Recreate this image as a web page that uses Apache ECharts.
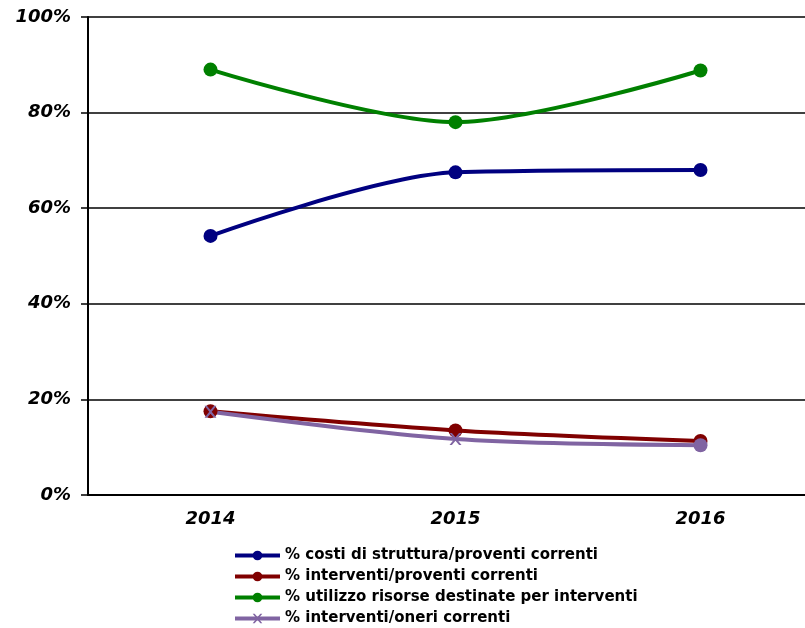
<!DOCTYPE html>
<html><head><meta charset="utf-8">
<script src="https://cdn.jsdelivr.net/npm/echarts@6/dist/echarts.min.js"></script>
<style>html,body{margin:0;padding:0;background:#fff;overflow:hidden}#c{width:823px;height:628px}</style>
</head><body><div id="c"></div>
<script>
const categories = ['2014', '2015', '2016'];
const costiStruttura = [0.542, 0.675, 0.680];
const interventiProventi = [0.175, 0.135, 0.113];
const utilizzoRisorse = [0.890, 0.780, 0.888];
const interventiOneri = [0.174, 0.117, 0.104];
const seriesNames = ['% costi di struttura/proventi correnti','% interventi/proventi correnti','% utilizzo risorse destinate per interventi','% interventi/oneri correnti'];

const X = 'path://M0,0 L2,0 L5,3.5 L8,0 L10,0 L6,5 L10,10 L8,10 L5,6.5 L2,10 L0,10 L4,5 Z';
const chart = echarts.init(document.getElementById('c'));
function mk(name, data, color, symbol) {
  return { name, type: 'line', smooth: 0.3, data, symbol: symbol || 'circle', symbolSize: 14,
    lineStyle: { color, width: 4 }, itemStyle: { color }, z: 3 };
}
const lbl = { color: '#000', fontFamily: 'DejaVu Sans', fontWeight: 'bold', fontStyle: 'italic', fontSize: 18 };
const purpleData = interventiOneri.map((v, i) => i === interventiOneri.length - 1 ? { value: v, symbol: 'circle', symbolSize: 14 } : v);
chart.setOption({
  animation: false,
  grid: { left: 88, top: 17, bottom: 133, right: 0 },
  xAxis: { type: 'category', data: categories, boundaryGap: true,
    axisLine: { lineStyle: { color: '#000', width: 2 } },
    axisTick: { lineStyle: { color: '#000', width: 1.5 }, length: 6 },
    axisLabel: Object.assign({ margin: 15 }, lbl) },
  yAxis: { type: 'value', min: 0, max: 1, interval: 0.2,
    axisLine: { show: true, lineStyle: { color: '#000', width: 2 } },
    axisTick: { show: true, lineStyle: { color: '#000', width: 1.5 }, length: 7 },
    splitLine: { lineStyle: { color: '#000', width: 1.5 } },
    axisLabel: Object.assign({ margin: 17, formatter: v => Math.round(v * 100) + '%' }, lbl) },
  legend: { orient: 'vertical', left: 228, top: 543, height: 100, itemWidth: 45, itemHeight: 12, itemGap: 6,
    lineStyle: { width: 4 },
    textStyle: { color: '#000', fontFamily: 'DejaVu Sans', fontWeight: 'bold', fontSize: 15 },
    data: seriesNames },
  series: [
    mk(seriesNames[0], costiStruttura, '#000080'),
    mk(seriesNames[1], interventiProventi, '#800000'),
    mk(seriesNames[2], utilizzoRisorse, '#008000'),
    Object.assign(mk(seriesNames[3], purpleData, '#8064A2', X), { symbolSize: 12 })
  ]
});
</script></body></html>
